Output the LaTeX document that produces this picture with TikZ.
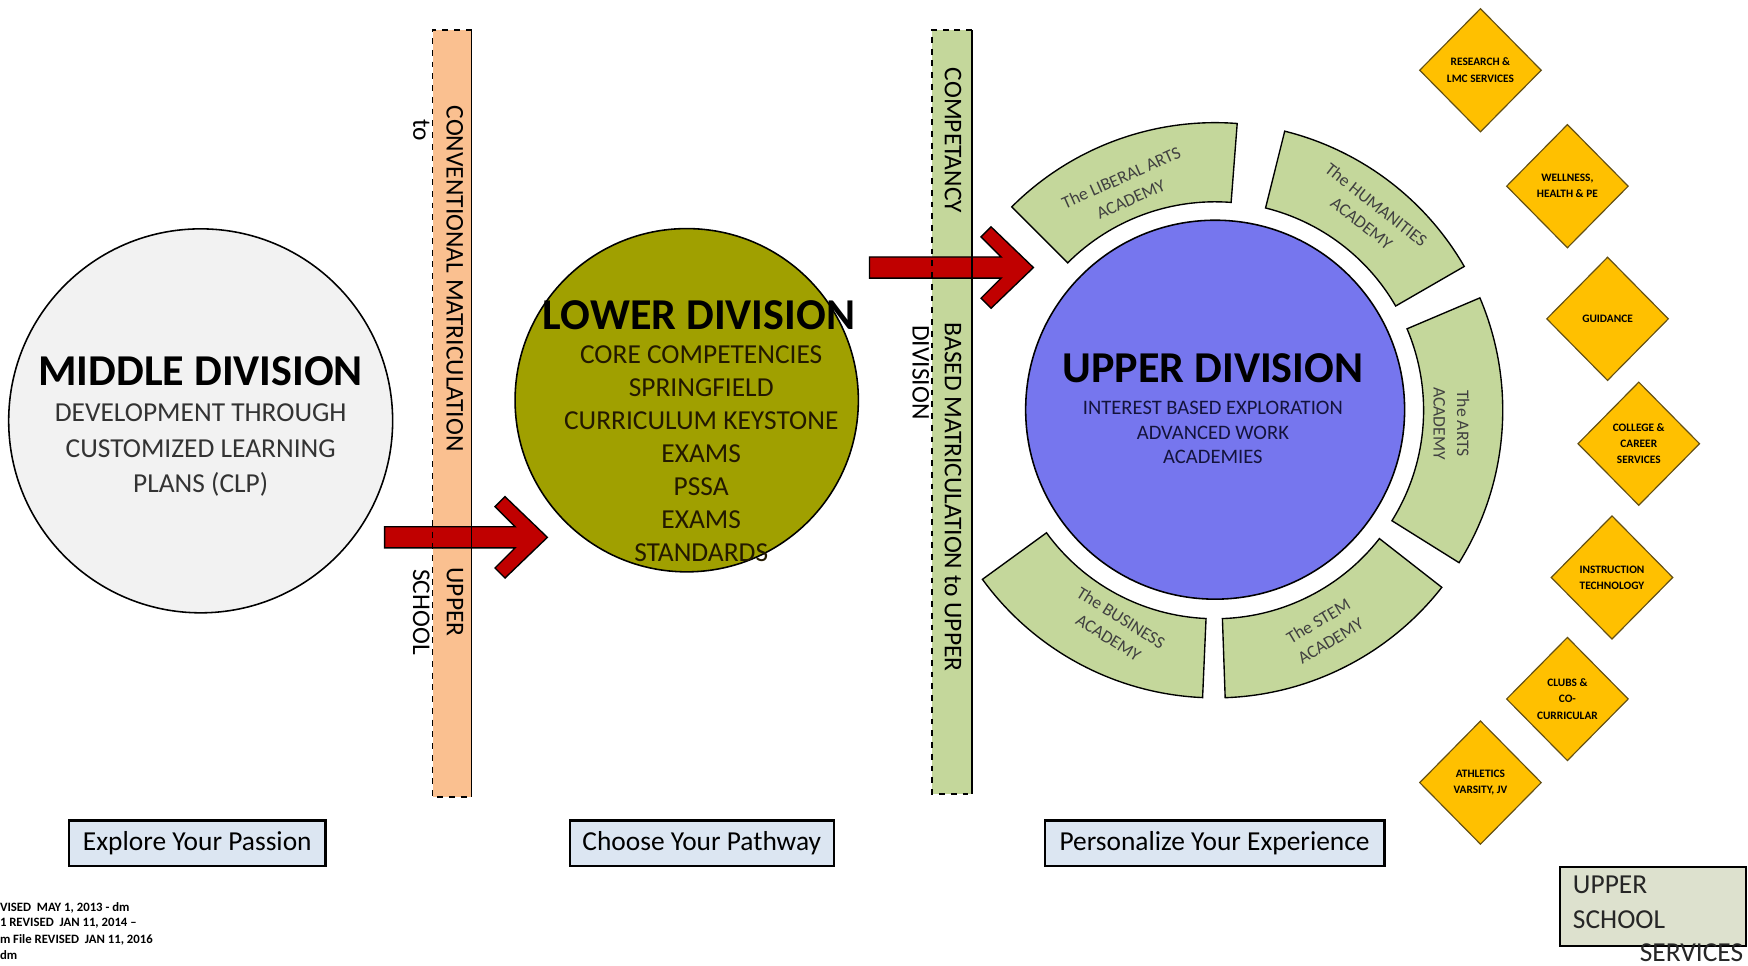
\documentclass[tikz,border=0pt]{standalone}
\usepackage{fontspec}
\setmainfont{Carlito}
\usetikzlibrary{shapes.geometric}
\definecolor{midfill}{RGB}{242,242,242}
\definecolor{lowfill}{RGB}{160,160,0}
\definecolor{upfill}{RGB}{118,118,238}
\definecolor{acad}{RGB}{196,215,155}
\definecolor{peach}{RGB}{250,192,144}
\definecolor{gold}{RGB}{255,192,0}
\definecolor{diamondline}{RGB}{100,80,20}
\definecolor{arrowred}{RGB}{192,0,0}
\definecolor{tagfill}{RGB}{220,230,242}
\definecolor{svcfill}{RGB}{221,225,206}
\definecolor{lowtext}{RGB}{35,25,0}
\definecolor{uptext}{RGB}{20,20,60}
\newcommand{\acadsec}[2]{\draw[acadsector] ([shift={(#1:187)}]1090,368) arc[start angle=#1, end angle=#2, radius=187] -- ([shift={(#2:258)}]1090,368) arc[start angle=#2, end angle=#1, radius=258] -- cycle;}
\begin{document}
\begin{tikzpicture}[x=0.02cm, y=-0.02cm,
  every node/.style={inner sep=0pt, outer sep=0pt},
  divcircle/.style={circle, draw=black, line width=0.8pt, minimum size=#1},
  divtitle/.style={font=\fontsize{22.5}{27}\selectfont\bfseries},
  acadsector/.style={fill=acad, draw=black, line width=0.7pt, line join=miter},
  acadlabel/.style={font=\fontsize{9}{12}\selectfont, text=black!75, align=center},
  bartext/.style={rotate=-90, font=\fontsize{13}{15}\selectfont},
  service/.style={diamond, draw=diamondline, line width=0.6pt, fill=gold, minimum width=2.18cm, minimum height=2.21cm, inner sep=0pt, align=center, font=\fontsize{5.8}{8.3}\selectfont\bfseries},
  tagbox/.style={draw=black, line width=1.1pt, fill=tagfill, minimum height=0.82cm, font=\fontsize{14}{16}\selectfont},
  blockarrow/.style={fill=arrowred, draw=black, line width=0.7pt, line join=miter},
  barborder/.style={draw=black, line width=0.8pt},
  revtext/.style={anchor=west, font=\fontsize{6.5}{7.5}\selectfont\bfseries}
]
\useasboundingbox (0,0) rectangle (1568,866);

% Middle division
\node[divcircle=6.89cm, fill=midfill] (middle) at (180,377.5) {};
\node[divtitle] (middletitle) at (180,333) {MIDDLE DIVISION};
\node[font=\fontsize{14}{18.1}\selectfont, text=black!80, align=center] (middletext) at (180,404) {DEVELOPMENT THROUGH\\CUSTOMIZED LEARNING\\PLANS (CLP)};

% orange bar
\fill[peach] (388,27) rectangle (423,715);
\coordinate (obarTL) at (388,27);
\coordinate (obarTR) at (423,27);
\coordinate (obarBL) at (388,715);
\coordinate (obarBR) at (423,715);

% green bar
\fill[acad] (836,27) rectangle (872,712);
\coordinate (gbarTL) at (836,27);
\coordinate (gbarTR) at (872,27);
\coordinate (gbarBL) at (836,712);
\coordinate (gbarBR) at (872,712);

% arrows
\draw[blockarrow] (345,472.5) -- (462,472.5) -- (444,454.5) -- (453,445.5) -- (491,482) -- (453,518.5) -- (444,509.5) -- (462,491.5) -- (345,491.5) -- cycle;
\draw[blockarrow] (780,230.5) -- (898,230.5) -- (880,212.5) -- (889,203.5) -- (927,240) -- (889,276.5) -- (880,267.5) -- (898,249.5) -- (780,249.5) -- cycle;

% bar borders
\draw[barborder, dashed] (obarTR) -- (obarTL) -- (obarBL) -- (obarBR);
\draw[barborder] (obarTR) -- (obarBR);
\draw[barborder, dashed] (gbarTR) -- (gbarTL) -- (gbarBL) -- (gbarBR);
\draw[barborder] (gbarTR) -- (gbarBR);

\node[bartext] (conv) at (408,250) {CONVENTIONAL MATRICULATION};
\node[bartext] (convto) at (378,117) {to};
\node[bartext] (convupper) at (408,540) {UPPER};
\node[bartext] (convschool) at (378,549) {SCHOOL};
\node[bartext] (comp) at (855,126) {COMPETANCY};
\node[bartext] (based) at (855,446) {BASED MATRICULATION to UPPER};
\node[bartext] (compdiv) at (826,334) {DIVISION};

% Lower division
\node[divcircle=6.16cm, fill=lowfill] (lower) at (616,359) {};
\node[divtitle] (lowertitle) at (627,283) {LOWER DIVISION};
\node[font=\fontsize{14}{16.8}\selectfont, text=lowtext, align=center] (lowertext) at (629,407) {CORE COMPETENCIES\\SPRINGFIELD\\CURRICULUM KEYSTONE\\EXAMS\\PSSA\\EXAMS\\STANDARDS};

% Upper division
\node[divcircle=6.8cm, fill=upfill] (upper) at (1090,367.5) {};
\node[divtitle] (uppertitle) at (1088,330) {UPPER DIVISION};
\node[font=\fontsize{10.5}{12.5}\selectfont, text=uptext, align=center] (uppertext) at (1088,388) {INTEREST BASED EXPLORATION\\ADVANCED WORK\\ACADEMIES};

% academies
\acadsec{-85.6}{-135}
\acadsec{-30}{-76}
\acadsec{32}{-23}
\acadsec{88}{38}
\acadsec{144}{92.5}
\node[acadlabel, rotate=24] (liberal) at (1010,169) {The LIBERAL ARTS\\ACADEMY};
\node[acadlabel, rotate=-38] (humanities) at (1228,192) {The HUMANITIES\\ACADEMY};
\node[acadlabel, rotate=-90] (arts) at (1302,380) {The ARTS\\ACADEMY};
\node[acadlabel, rotate=31] (stem) at (1188,566) {The STEM\\ACADEMY};
\node[acadlabel, rotate=-32] (business) at (1000,563) {The BUSINESS\\ACADEMY};

% services
\node[service] (research) at (1328,63) {RESEARCH \&\\LMC SERVICES};
\node[service] (wellness) at (1406,167) {WELLNESS,\\HEALTH \& PE};
\node[service] (guidance) at (1442,286) {GUIDANCE};
\node[service] (college) at (1470,398) {COLLEGE \&\\CAREER\\SERVICES};
\node[service] (instruction) at (1446,518) {INSTRUCTION\\TECHNOLOGY};
\node[service] (clubs) at (1406,627) {CLUBS \&\\CO-\\CURRICULAR};
\node[service] (athletics) at (1328,702) {ATHLETICS\\VARSITY, JV};

% bottom tags
\node[tagbox, minimum width=4.6cm] (explore) at (177,756.5) {Explore Your Passion};
\node[tagbox, minimum width=4.74cm] (choose) at (629.5,756.5) {Choose Your Pathway};
\node[tagbox, minimum width=6.1cm] (personalize) at (1089.5,756.5) {Personalize Your Experience};

% upper school services
\draw[fill=svcfill, draw=black, line width=1.1pt] (1399,777.5) rectangle (1566,848.5);
\node[anchor=west, font=\fontsize{14}{16}\selectfont, text=black!85] (svcupper) at (1411,794) {UPPER};
\node[anchor=west, font=\fontsize{14}{16}\selectfont, text=black!85] (svcschool) at (1411,825) {SCHOOL};
\node[anchor=west, font=\fontsize{14}{16}\selectfont, text=black!85] (svcservices) at (1471,855) {SERVICES};

% revision notes
\node[revtext] (rev1) at (0,814) {VISED \ MAY 1, 2013 - dm};
\node[revtext] (rev2) at (0,828) {1 REVISED \ JAN 11, 2014 --};
\node[revtext] (rev3) at (0,843) {m File REVISED \ JAN 11, 2016};
\node[revtext] (rev4) at (0,857) {dm};
\end{tikzpicture}
\end{document}
